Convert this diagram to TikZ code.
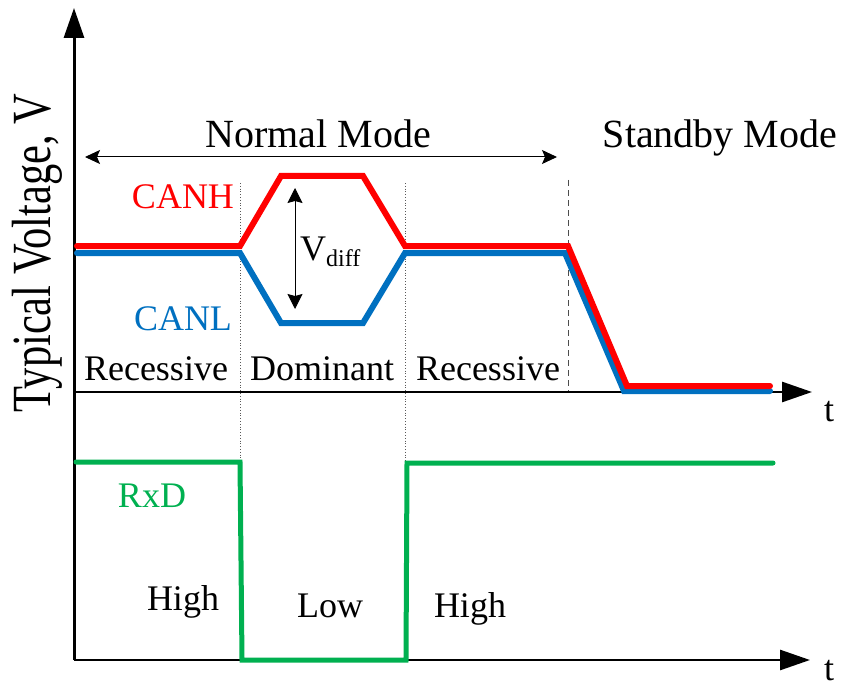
\documentclass[tikz,border=0pt]{standalone}
\usepackage{fontspec}
\setmainfont{Liberation Serif}
\usetikzlibrary{arrows.meta}
\definecolor{canh}{RGB}{255,0,0}
\definecolor{canl}{RGB}{0,112,192}
\definecolor{rxd}{RGB}{0,176,80}
\begin{document}
\begin{tikzpicture}[x=1pt,y=-1pt]
\tikzset{
  lbl/.style={inner sep=0pt, anchor=base, font=\fontsize{36}{40}\selectfont},
  biglbl/.style={lbl, font=\fontsize{40}{44}\selectfont},
  axisline/.style={line width=3pt, -{Triangle[length=30pt,width=20pt]}},
  sig/.style={line width=6pt, line cap=round, line join=miter},
  guide/.style={gray!70!black, line width=0.8pt, dotted},
  thinarrow/.style={line width=1pt, {Stealth[length=15pt,width=14pt,inset=3pt]}-{Stealth[length=15pt,width=14pt,inset=3pt]}}
}
\useasboundingbox (0,0) rectangle (845,687);
% coordinates
\coordinate (O) at (74,660);
\coordinate (ytop) at (74,8);
\coordinate (ux0) at (74,392);
\coordinate (ux1) at (812,392);
\coordinate (lx1) at (810,660);
\coordinate (g1a) at (240.5,183);
\coordinate (g1b) at (240.5,660);
\coordinate (g2a) at (405.5,183);
\coordinate (g2b) at (405.5,660);
\coordinate (g3a) at (568,180);
\coordinate (g3b) at (568,392);
\coordinate (nmL) at (85,157);
\coordinate (nmR) at (557,157);
\coordinate (vdT) at (295,188);
\coordinate (vdB) at (295,309);
% guide lines
\draw[guide] (g1a) -- (g1b);
\draw[guide] (g2a) -- (g2b);
\draw[gray!60!black, line width=1pt, dash pattern=on 6pt off 4pt] (g3a) -- (g3b);
% axes
\draw[axisline] (O) -- (ytop);
\draw[line width=2.7pt, -{Triangle[length=30pt,width=20pt]}] (ux0) -- (ux1);
\draw[line width=2.7pt, -{Triangle[length=30pt,width=20pt]}] (O) -- (lx1);
% normal mode arrow
\draw[thinarrow] (nmL) -- (nmR);
% CAN lines
\draw[sig, canl] (77,253) -- (240,253) -- (281,323) -- (363,323) -- (405,253) -- (565,253) -- (624,391) -- (770,391);
\draw[sig, canh] (77,246) -- (240,246) -- (281,176) -- (363,176) -- (405,246) -- (568,246) -- (627,386) -- (770,386);
% Vdiff arrow
\draw[line width=1pt, {Stealth[length=15pt,width=15pt,inset=2pt]}-{Stealth[length=15pt,width=15pt,inset=2pt]}] (vdT) -- (vdB);
% RxD
\draw[sig, rxd, line width=5pt] (76,462) -- (240,462) -- (242,660) -- (406,660) -- (407,463) -- (773,463);
% labels
\node[lbl, rotate=90, font=\fontsize{42.5}{46}\selectfont] (ylab) at (50,253) {\scalebox{1}[1.3]{Typical Voltage, V}};
\node[biglbl] (nm) at (318,148) {Normal Mode};
\node[biglbl] (sm) at (720,148) {Standby Mode};
\node[lbl, text=canh] (canhL) at (183,208) {CANH};
\node[lbl, text=canl] (canlL) at (183,330) {CANL};
\node[lbl, anchor=base west] (vd) at (300,260) {V\raisebox{-6pt}{\fontsize{24}{26}\selectfont diff}};
\node[lbl] (rec1) at (156,380) {Recessive};
\node[lbl] (dom) at (322,380) {Dominant};
\node[lbl] (rec2) at (488,380) {Recessive};
\node[lbl] (t1) at (829,421) {t};
\node[lbl] (t2) at (829,680) {t};
\node[lbl, text=rxd] (rxdL) at (152,507) {RxD};
\node[lbl] (hi1) at (183,610) {High};
\node[lbl] (lo) at (330,617) {Low};
\node[lbl] (hi2) at (470,617) {High};
\end{tikzpicture}
\end{document}
